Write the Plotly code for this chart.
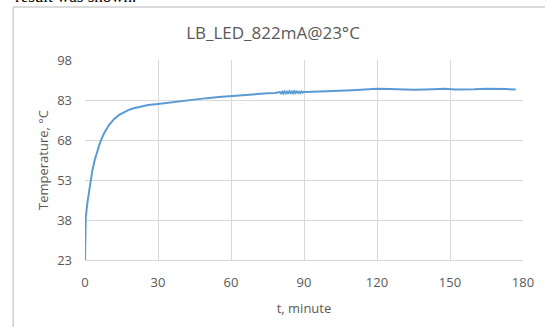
import plotly.graph_objects as go

time_min = [0, 0, 0.3, 1, 2, 3, 4, 5, 6, 7, 8, 10, 12, 14, 16, 18, 20, 23, 26, 30,
            35, 40, 45, 50, 55, 60, 65, 70, 75, 78, 79.5,
            80, 80.5, 81, 81.5, 82, 82.5, 83, 83.5, 84, 84.5, 85, 85.5, 86, 86.5,
            87, 87.5, 88, 88.5, 89, 89.5, 90, 91,
            95, 100, 105, 110, 115, 120, 125, 130, 135, 140, 145, 148, 152, 156,
            160, 165, 170, 173, 177]
temp_c = [23, 35.5, 39, 44.5, 51, 56.5, 60.5, 63.8, 66.5, 68.8, 70.8, 73.8, 75.9, 77.4, 78.5, 79.3, 79.9, 80.6, 81.1, 81.5,
          82.1, 82.7, 83.2, 83.7, 84.1, 84.5, 84.8, 85.2, 85.5, 85.6, 85.7,
          86.0, 85.5, 86.1, 85.4, 86.2, 85.5, 86.1, 85.4, 86.3, 85.6, 86.2, 85.5, 86.3, 85.6,
          86.2, 85.7, 86.1, 85.6, 86.2, 85.8, 86.0, 86.0,
          86.2, 86.4, 86.6, 86.7, 86.9, 87.2, 87.1, 86.9, 86.8, 86.9, 87.1, 87.2, 86.9, 86.9,
          87.0, 87.2, 87.3, 87.1, 86.9]

x_ticks = [0, 30, 60, 90, 120, 150, 180]
y_ticks = [23, 38, 53, 68, 83, 98]

title_text = "LB_LED_822mA@23°C"
x_title = "t, minute"
y_title = "Temperature, °C"
above_text = "result was shown."

gray = "#595959"
grid = "#d9d9d9"
frame = "#cfcfcf"
font_family = "Open Sans"

fx0 = (12 - 85) / 445
fy1 = (260 - 7) / 200

fig = go.Figure()
fig.add_trace(go.Scatter(x=time_min, y=temp_c, mode="lines",
                         line=dict(color="#5B9BD5", width=2), showlegend=False))

fig.update_layout(
    width=546, height=327,
    margin=dict(l=85, r=16, t=60, b=67),
    paper_bgcolor="white", plot_bgcolor="white",
    font=dict(family=font_family, color=gray, size=13),
    title=dict(text=title_text, x=0.5, xanchor="center", y=0.9, yanchor="middle",
               font=dict(size=17, color=gray, family=font_family)),
    xaxis=dict(range=[0, 180], tickvals=x_ticks, showgrid=True, gridcolor=grid,
               showline=True, linecolor=grid, zeroline=False, ticks="", ticklabelstandoff=10,
               title=dict(text=x_title, font=dict(size=13, color=gray), standoff=14),
               tickfont=dict(size=13, color=gray)),
    yaxis=dict(range=[23, 98], tickvals=y_ticks, showgrid=True, gridcolor=grid,
               showline=False, zeroline=False, ticks="", ticklabelstandoff=12,
               title=dict(text=y_title, font=dict(size=13, color=gray), standoff=5),
               tickfont=dict(size=13, color=gray)),
    shapes=[
        dict(type="line", xref="paper", yref="paper", x0=fx0, x1=1.05, y0=fy1, y1=fy1,
             line=dict(color=frame, width=1.5)),
        dict(type="line", xref="paper", yref="paper", x0=fx0, x1=fx0, y0=-0.4, y1=fy1,
             line=dict(color=frame, width=1.5)),
    ],
    annotations=[dict(text=above_text, xref="paper", yref="paper",
                      x=fx0, xanchor="left", y=(260 - 8) / 200, yanchor="bottom",
                      showarrow=False, font=dict(family="Liberation Serif", size=17, color="black"))],
)

fig.write_html("out.html", config={"displayModeBar": False},
               post_script="document.body.style.margin='0';document.body.style.overflow='hidden';"
                           "document.documentElement.style.overflow='hidden';")
